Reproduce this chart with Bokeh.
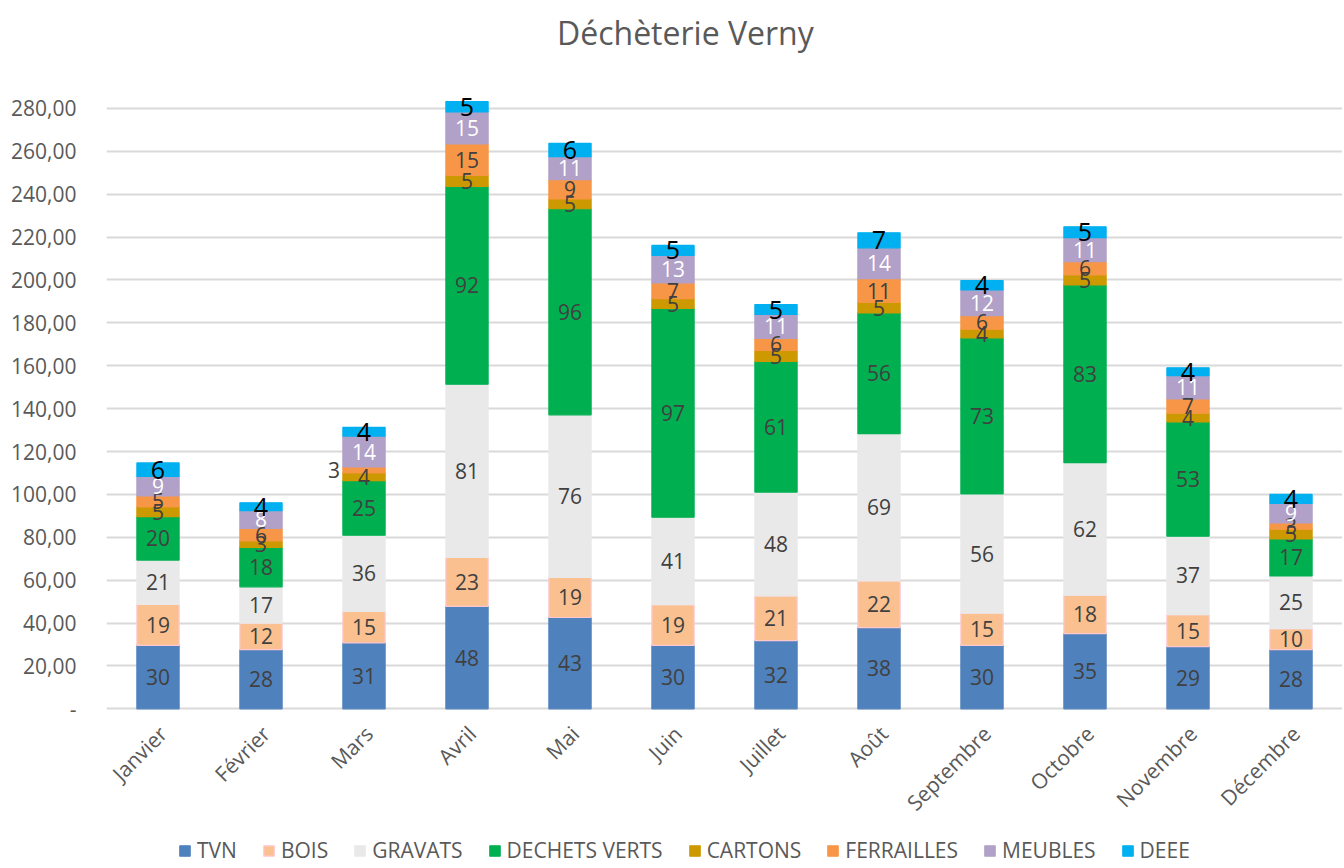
import math
from bokeh.plotting import figure
from bokeh.models import (ColumnDataSource, FixedTicker, Legend, LegendItem, Range1d, Label)
from bokeh.core.properties import value
from bokeh.embed import file_html
from bokeh.resources import INLINE

# ---------------- data ----------------
months = ["Janvier", "Février", "Mars", "Avril", "Mai", "Juin", "Juillet",
          "Août", "Septembre", "Octobre", "Novembre", "Décembre"]
tvn = [29.6, 27.6, 30.8, 47.8, 42.6, 29.6, 31.8, 37.9, 29.6, 35.1, 29.0, 27.6]
bois = [19.1, 12.4, 14.6, 22.8, 18.7, 19.0, 20.9, 21.8, 15.0, 17.9, 14.9, 9.8]
gravats = [20.7, 16.9, 35.6, 80.8, 75.8, 40.8, 48.4, 68.6, 55.6, 61.8, 36.6, 24.6]
dechets_verts = [20.2, 18.4, 25.4, 92.2, 96.1, 97.3, 60.9, 56.3, 72.8, 82.9, 53.3, 17.2]
cartons = [4.6, 3.0, 3.6, 5.2, 4.6, 4.6, 5.1, 4.9, 4.0, 4.6, 4.1, 4.6]
ferrailles = [5.1, 5.9, 2.8, 14.6, 9.0, 7.3, 5.6, 11.1, 6.4, 6.2, 6.6, 2.9]
meubles = [9.1, 8.2, 14.4, 14.9, 10.7, 12.9, 11.2, 14.4, 11.9, 11.2, 10.9, 9.1]
deee = [6.3, 3.7, 4.1, 4.9, 6.2, 4.6, 4.6, 7.0, 4.4, 5.1, 3.6, 4.2]

series_names = ["TVN", "BOIS", "GRAVATS", "DECHETS VERTS", "CARTONS",
                "FERRAILLES", "MEUBLES", "DEEE"]
series_values = [tvn, bois, gravats, dechets_verts, cartons, ferrailles, meubles, deee]
y_ticks = [0, 20, 40, 60, 80, 100, 120, 140, 160, 180, 200, 220, 240, 260, 280]
title_text = "Déchèterie Verny"

# ---------------- styles / layout ----------------
# The frame covers the whole canvas height; the title, the month labels and
# the legend are drawn inside it, above and below the 0..280 plotting band.
Y_TOP = 330.3
Y_BOT = -73.5
TITLE_Y = 315.3
TITLE_X = 5.62         # in category units
colors = ["#4F81BD", "#FAC090", "#E9E9E9", "#00B050", "#CC9900",
          "#F79646", "#B1A0C7", "#00B0F0"]
line_colors = ["#4F81BD", "#FFC7CE", "#E9E9E9", "#00B050", "#CC9900",
               "#F79646", "#B1A0C7", "#00B0F0"]
label_colors = ["#404040", "#404040", "#404040", "#404040", "#404040",
                "#404040", "#FFFFFF", "#000000"]
FONT = "Open Sans"
GRAY = "#595959"

keys = ["s%d" % i for i in range(len(series_names))]
data = {"month": months}
for k, v in zip(keys, series_values):
    data[k] = v
src = ColumnDataSource(data)

p = figure(x_range=months, y_range=Range1d(Y_BOT, Y_TOP),
           frame_width=1236, frame_height=866,
           output_backend="svg", toolbar_location=None,
           min_border_left=106, min_border_right=0, min_border_top=0,
           min_border_bottom=0)
p.outline_line_color = None
p.background_fill_color = "white"

renderers = p.vbar_stack(keys, x="month", width=0.41, source=src,
                         fill_color=colors, line_color=line_colors, line_width=1.2)

# data labels
for i, (name, vals) in enumerate(zip(series_names, series_values)):
    xs, ys, txt, offs = [], [], [], []
    for j, m in enumerate(months):
        base = sum(series_values[k][j] for k in range(i))
        xs.append(m)
        ys.append(base + vals[j] / 2.0)
        txt.append(str(int(math.floor(vals[j] + 0.5))))
        offs.append(-30 if (name == "FERRAILLES" and m == "Mars") else 0)
    lsrc = ColumnDataSource(dict(x=xs, y=ys, text=txt, xo=offs))
    p.text(x="x", y="y", text="text", x_offset="xo", source=lsrc,
           text_align="center", text_baseline="middle",
           text_font=value(FONT),
           text_font_size="25px" if name == "DEEE" else "21px",
           text_color=label_colors[i])

# month labels (category axis), rotated 45 degrees under the baseline
msrc = ColumnDataSource(dict(x=months, y=[0] * len(months), text=months))
p.text(x="x", y="y", text="text", source=msrc, angle=math.pi / 4,
       x_offset=5, y_offset=21, text_align="right", text_baseline="middle",
       text_font=value(FONT), text_font_size="21px", text_color=GRAY)

# title
title = Label(x=TITLE_X, y=TITLE_Y, text=title_text, text_align="center",
              text_baseline="middle", text_font=FONT, text_font_size="32px",
              text_color=GRAY)
p.add_layout(title)

# axes
p.yaxis.ticker = FixedTicker(ticks=y_ticks)
p.yaxis.major_label_overrides = {t: ("-" if t == 0 else f"{t},00") for t in y_ticks}
p.yaxis.axis_line_color = None
p.yaxis.major_tick_line_color = None
p.yaxis.minor_tick_line_color = None
p.yaxis.major_label_standoff = 24
p.yaxis.major_label_text_font = FONT
p.yaxis.major_label_text_font_size = "21px"
p.yaxis.major_label_text_color = GRAY
p.xaxis.visible = False

p.xgrid.grid_line_color = None
p.ygrid.ticker = FixedTicker(ticks=y_ticks)
p.ygrid.grid_line_color = "#D9D9D9"
p.ygrid.grid_line_width = 2

legend = Legend(items=[LegendItem(label=n, renderers=[r]) for n, r in zip(series_names, renderers)],
                orientation="horizontal", location=(72, 2))
legend.label_text_font = FONT
legend.label_text_font_size = "21px"
legend.label_text_color = GRAY
legend.glyph_width = 13
legend.glyph_height = 13
legend.label_standoff = 6
legend.spacing = 25
legend.border_line_color = None
legend.background_fill_alpha = 0
legend.padding = 0
legend.margin = 0
p.add_layout(legend, "center")

open("out.html", "w").write(file_html(p, INLINE))
